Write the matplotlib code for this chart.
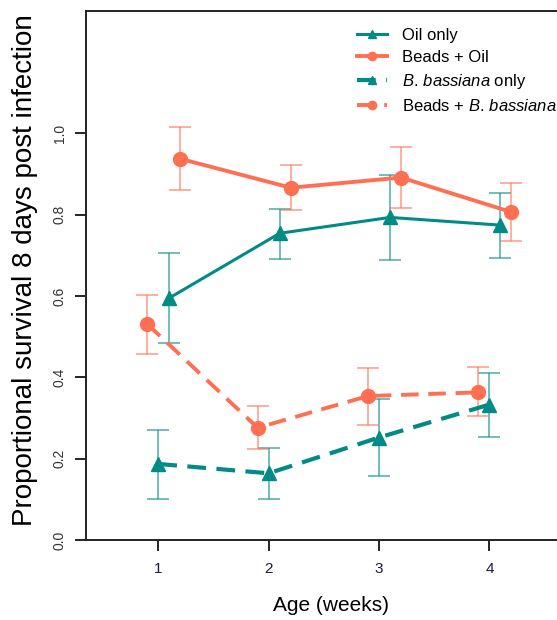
import matplotlib
matplotlib.use("Agg")
import matplotlib.pyplot as plt

plt.rcParams['font.family'] = ['Liberation Sans', 'DejaVu Sans']
plt.rcParams['mathtext.fontset'] = 'custom'
plt.rcParams['mathtext.rm'] = 'Liberation Sans'
plt.rcParams['mathtext.it'] = 'Liberation Sans:italic'

# ===== DATA =====
weeks = [1, 2, 3, 4]

oil_only = [0.595, 0.754, 0.793, 0.774]
oil_only_lo = [0.484, 0.691, 0.688, 0.694]
oil_only_hi = [0.705, 0.814, 0.897, 0.854]

beads_oil = [0.937, 0.866, 0.891, 0.806]
beads_oil_lo = [0.861, 0.810, 0.816, 0.736]
beads_oil_hi = [1.015, 0.922, 0.967, 0.877]

bb_only = [0.187, 0.164, 0.252, 0.333]
bb_only_lo = [0.102, 0.102, 0.157, 0.254]
bb_only_hi = [0.270, 0.225, 0.347, 0.410]

beads_bb = [0.531, 0.276, 0.354, 0.363]
beads_bb_lo = [0.457, 0.224, 0.282, 0.306]
beads_bb_hi = [0.603, 0.330, 0.424, 0.425]

labels = ["Oil only", "Beads + Oil",
          r"$\mathit{B.\,bassiana}$ only", r"Beads + $\mathit{B.\,bassiana}$"]

# ===== COLORS =====
teal = "#008b87"
coral = "#ff7052"

fig = plt.figure(figsize=(5.57, 6.2), dpi=100)
ax = fig.add_axes([0.1544, 0.129, 0.88, 0.853])


def draw(vals, lo, hi, offset, color, marker, ls, lw, ms, label):
    xs = [w + offset for w in weeks]
    err = [[v - l for v, l in zip(vals, lo)], [h - v for v, h in zip(vals, hi)]]
    ax.errorbar(xs, vals, yerr=err, fmt="none", ecolor=color, alpha=0.6,
                elinewidth=1.3, capsize=8, capthick=1.3, zorder=2)
    ax.plot(xs, vals, color=color, linestyle=ls, linewidth=lw, marker=marker,
            markersize=ms, label=label, zorder=3,
            dashes=(4.5, 2.5) if ls == "--" else (None, None))


draw(oil_only, oil_only_lo, oil_only_hi, 0.1, teal, "^", "-", 2.2, 10, labels[0])
draw(beads_oil, beads_oil_lo, beads_oil_hi, 0.2, coral, "o", "-", 2.8, 10, labels[1])
draw(bb_only, bb_only_lo, bb_only_hi, 0.0, teal, "^", "--", 3.0, 10, labels[2])
draw(beads_bb, beads_bb_lo, beads_bb_hi, -0.1, coral, "o", "--", 2.8, 10, labels[3])

ax.set_xlim(0.345, 4.786)
ax.set_ylim(0, 1.30)
ax.set_xticks(weeks)
ax.set_yticks([0.0, 0.2, 0.4, 0.6, 0.8, 1.0])
ax.set_yticklabels(["0.0", "0.2", "0.4", "0.6", "0.8", "1.0"],
                   rotation=90, va="center", color="#333333", fontsize=10)
ax.set_xticklabels([str(w) for w in weeks], color="#1a1a40", fontsize=11)
ax.tick_params(direction="out", length=8, width=1.2, pad=8)
ax.tick_params(axis="y", pad=6)

for s in ax.spines.values():
    s.set_linewidth(1.4)
    s.set_color("#222222")

ax.set_xlabel("Age (weeks)", fontsize=15, labelpad=14)
ax.set_ylabel("Proportional survival 8 days post infection", fontsize=20)
ax.yaxis.set_label_coords(-0.098, 0.51)

handles, labs = ax.get_legend_handles_labels()
leg = fig.legend(handles, labs, loc="upper left", bbox_to_anchor=(0.641, 0.955),
                 frameon=False, fontsize=12, handlelength=1.8,
                 borderaxespad=0, borderpad=0, labelspacing=0.42,
                 handletextpad=0.9, markerscale=0.6)

fig.savefig("out.png", dpi=100)
